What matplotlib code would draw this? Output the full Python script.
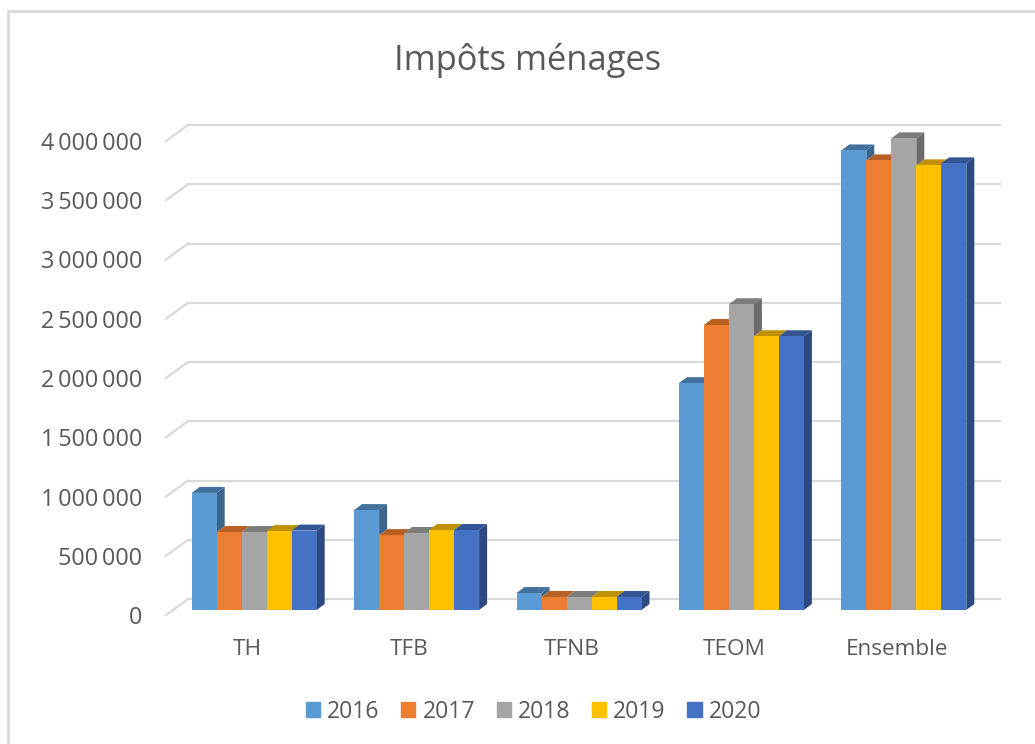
import matplotlib
matplotlib.use("Agg")
import matplotlib.pyplot as plt
from matplotlib.patches import Patch, Rectangle
from matplotlib.transforms import offset_copy
import numpy as np

categories = ["TH", "TFB", "TFNB", "TEOM", "Ensemble"]
years = ["2016", "2017", "2018", "2019", "2020"]
v2016 = [988000, 843000, 143000, 1914000, 3878000]
v2017 = [658000, 632000, 110000, 2405000, 3794000]
v2018 = [658000, 650000, 110000, 2580000, 3980000]
v2019 = [666000, 675000, 110000, 2310000, 3752000]
v2020 = [670000, 675000, 110000, 2310000, 3769000]
series = [v2016, v2017, v2018, v2019, v2020]
colors = ["#5B9BD5", "#ED7D31", "#A5A5A5", "#FFC000", "#4472C4"]
top_colors = ["#41719C", "#B85F23", "#7C7C7C", "#BF9000", "#335593"]
side_colors = ["#3B658A", "#A65620", "#6B6B6B", "#AD8200", "#2C4A80"]
yticks = [0, 500000, 1000000, 1500000, 2000000, 2500000, 3000000, 3500000, 4000000]
ylabels = ["0", "500\u2009000", "1\u2009000\u2009000", "1\u2009500\u2009000", "2\u2009000\u2009000",
           "2\u2009500\u2009000", "3\u2009000\u2009000", "3\u2009500\u2009000", "4\u2009000\u2009000"]

W, H = 1035, 744
text_color = "#595959"
grid_color = "#D9D9D9"
plt.rcParams["font.family"] = ["Open Sans", "DejaVu Sans"]

fig = plt.figure(figsize=(W / 100, H / 100), dpi=100)
fig.add_artist(Rectangle((8 / W, -0.1), 1.1, 1.1 - 11 / H, transform=fig.transFigure,
                         facecolor="white", edgecolor="#D9D9D9", linewidth=2, zorder=-1))

# the axes is the front plane of the fake 3D box
left, right, bottom, top = 166, 978, 615, 141
ax = fig.add_axes([left / W, 1 - bottom / H, (right - left) / W, (bottom - top) / H])
ax.patch.set_alpha(0)
ax.set_xlim(-0.5, 4.5)
ax.set_ylim(0, 4000000)
for s in ax.spines.values():
    s.set_visible(False)

px_x = 5 / (right - left)
px_y = 4000000 / (bottom - top)

# back wall gridlines and the diagonals joining them to the tick labels
back = offset_copy(ax.transData, fig, x=22, y=16, units="dots")
for t in yticks:
    ax.plot([-0.5, 4.5], [t, t], transform=back, color=grid_color, lw=1.6, clip_on=False, zorder=1)
    ax.plot([-0.5, -0.5 + 22 * px_x], [t, t + 16 * px_y], color=grid_color, lw=1.6, clip_on=False, zorder=1)

# bars stand a little behind the front plane
plane = offset_copy(ax.transData, fig, x=7, y=5, units="dots")
bar_w = 25 * px_x
dx = 8 * px_x
dy = 6 * px_y
x = np.arange(len(categories))
for i, vals in enumerate(series):
    xs = x + (i - 2) * bar_w
    ax.bar(xs, vals, width=bar_w, color=colors[i], transform=plane, zorder=4, clip_on=False)
    for j, (xc, v) in enumerate(zip(xs, vals)):
        x0, x1 = xc - bar_w / 2, xc + bar_w / 2
        ax.fill([x0, x1, x1 + dx, x0 + dx], [v, v, v + dy, v + dy], color=top_colors[i],
                lw=0, transform=plane, zorder=2, clip_on=False)
        # only the part of the side that rises above the next bar shows
        low = series[i + 1][j] if i < len(series) - 1 else 0
        if v > low:
            ax.fill([x1, x1 + dx, x1 + dx, x1], [low, low + dy, v + dy, v], color=side_colors[i],
                    lw=0, transform=plane, zorder=3, clip_on=False)

ax.set_xticks(x)
ax.set_xticklabels(categories, fontsize=16.2, color=text_color)
ax.set_yticks(yticks)
ax.set_yticklabels(ylabels, fontsize=16.8, color=text_color)
ax.tick_params(axis="x", length=0, pad=17.5)
ax.tick_params(axis="y", length=0, pad=17)

fig.text(528 / W, 1 - 60 / H, "Impôts ménages", ha="center", va="center", fontsize=24.8, color=text_color)

handles = [Patch(color=c) for c in colors]
fig.legend(handles, years, ncol=5, loc="center", bbox_to_anchor=(533.5 / W, 1 - 712 / H), frameon=False,
           fontsize=16.6, labelcolor=text_color, handlelength=0.62, handleheight=0.62,
           handletextpad=0.3, columnspacing=0.94)

fig.savefig("out.png", dpi=100)
